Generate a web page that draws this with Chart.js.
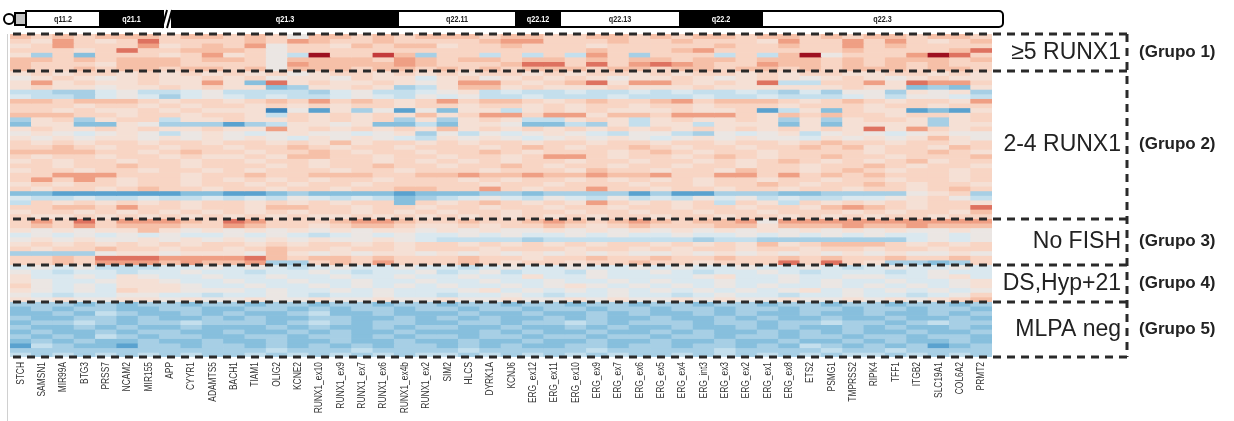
<!DOCTYPE html>
<html lang="es">
<head>
<meta charset="UTF-8">
<title>MLPA cromosoma 21 - heatmap</title>
<script src="https://cdn.jsdelivr.net/npm/chart.js@4"></script>
<style>
  body { margin: 0; background: #fff; }
  #wrap { width: 1234px; height: 421px; }
</style>
</head>
<body>
<div id="wrap"><canvas id="heatmap" width="1234" height="421"></canvas></div>
<script>
// sondas MLPA en el orden del cromosoma 21
const genes = ['STCH', 'SAMSN1', 'MIR99A', 'BTG3', 'PRSS7', 'NCAM2', 'MIR155', 'APP', 'CYYR1', 'ADAMTS5',
  'BACH1', 'TIAM1', 'OLIG2', 'KCNE2', 'RUNX1_ex10', 'RUNX1_ex9', 'RUNX1_ex7', 'RUNX1_ex6', 'RUNX1_ex4b', 'RUNX1_ex2',
  'SIM2', 'HLCS', 'DYRK1A', 'KCNJ6', 'ERG_ex12', 'ERG_ex11', 'ERG_ex10', 'ERG_ex9', 'ERG_ex7', 'ERG_ex6',
  'ERG_ex5', 'ERG_ex4', 'ERG_int3', 'ERG_ex3', 'ERG_ex2', 'ERG_ex1', 'ERG_ex8', 'ETS2', 'PSMG1', 'TMPRSS2',
  'RIPK4', 'TFF1', 'ITGB2', 'SLC19A1', 'COL6A2', 'PRMT2'];

// one string per sample, one letter per probe (ratio level, see levels below)
const group1 = [
  'JIJIJJJIJJ IJIGJJIJIJ JJIJJIIJJI JIJJIJJIJI JJIJJI',
  'IHKIHILIII IJIKJIIJII IIJKKIIIJI IJIIIHKIIK IKIHIJ',
  'HIKIIIKHIJ IKGIIHJIJJ HIIJIIIHII IIIJIIJIIK IJIIII',
  'IIIHILIIJJ JIGIIIIIII IIIIIIIJII IJKIIIIIIJ IIIIJL',
  'HDICIIIHIK HIGENIIMJD IIEIEIEKID IIIEIEJNGI IIKNLI',
  'JJIJIJJJIJ JIGJJJJIKJ IJJIJJIJIJ JIJJIJJJIJ IJJJIJ',
  'JIIIHJJJII IIGKJJJJKJ IIIJLLILIK LKJIIKJJIJ IJIJII',
  'JIIJIJJIJJ IJGJJJIJJI JIJIJJJIJJ IJJIJJIJIJ JJIJJI'
];
const group2 = [
  'HIHIIHIHIH IHIGHIIHIH IHIIHIHIIH IHIIHIHIIH HIIHIH',
  'GHIHGHIHHI HIGHHGIHHF HIGHIHIHGH HIHGHIHGHI HGHIHH',
  'HKHIHHIHHK HCLHIHHIHG HKKIHIJLHK KIHIHLEEII KHLKKI',
  'HIHHGHHIHI HHCDHHIHDE HJJHIHHHIH HHIHHHHHHI HHCDCH',
  'EEDDFGEEFG EEEEDFGEEF GHEFEEFEEF EFEEFEDFDG GDHGHD',
  'FEEDFGFDFG FEFEEFGFEG FGEEFEEEFE EEFEEFEEEF GEGGFE',
  'JJIJJJIHII HIJIKIJIHI KIJJIHIJII JKIJJJIHIJ IHIIHK',
  'IIIHIIHIHI IHIHIHIIHI IHIIHIHIIH IIHIIIHIII HIIHII',
  'IIHIHHIHIH HHAGBHDGBG CHHEHIHIHH HIHHIBEHCI HHBCBH',
  'JJJIIHIIHI IHEIHIHIHJ HIKKIKKHJJ IKKKIHJIJI IHIIHI',
  'DHIDHIIEHH IHHIHIHIDH DHIHEEHIHE HIHHIHDHDH IIHDHI',
  'CHHCCHGDDD BDEHHGHCCE CHHGCCEDHE HHEHHHCHCH HHHDHH',
  'HIHHIHIHHI HHKHIHIHIH JHIHIHIHIH IHIHIHIHIH LHKIHI',
  'GHGFGHGEGH GFGHGGFGHD GEGFGHGFEG GEDGFGHEGH GFGHGG',
  'HGHGHHGHGH GHGFHGHGFE HGHGFGHGHG FGHGHGGFHG HGHJHG',
  'IHIHIIHIIH IIHIHJHIIH IHIIHIIHII HIIHIIHIJI IHIIHI',
  'IIJIHIIHII HIIJIHIIHI IIHIJIHIIJ IHIIHIIJIJ HIIHJI',
  'JJJJIIHIJI IHIIJIHIIH IIJIHIIIHI JIHIIHIIII HIIJIH',
  'IHIIHIIHIH HIHJJIIHII HIIHIKKIHI IHIJIHIIJI IHIIIJ',
  'HIHIIHIIHI IHIIHIIHIH IHIHIIHIIH IIHIHIJIHI HIJHII',
  'IIHIIJIIHI IIHIHIIJII HIIJIHIIHI IHIIHIIHII JIHIIH',
  'HIIHIIHIIH IHIIIHIIHI IIHIIIHJII HIIHJIIHIJ IHIIHI',
  'IIKKKIIIHI IJIIJJJIIJ JKJJKJJKJJ KIIKKIKIJI JIIIHI',
  'IKIKIHIIHI HIHIHIIHII IHIHIIHIHI HIHIIHIIHI IHIIHI',
  'HIHIIHIIHI IHIHIIHIII IIHIIHIIIH IIHIIJIHII JIHIIH',
  'IHIIHIJIIH IIHIIHIIJJ IIKIHIIKII HIIHIIHIIH IIHIJI',
  'CCBBBBBBCC BBCDCCCCBC CCDDCDDDDB DBBDDDCCDD DDGHID',
  'FEEFEEFEEF EFEGFEFECD EFGFEGFEGE FEGFGEFEEF FGHIGE',
  'EIHIHIHIHI IHIHIHIICI HIJIHIHKIH IHIEIHEIHI HIHIIH',
  'IIJJIKIIHI IHJJIIHIIH IIHIIHIIHI IHIIHIIHJK JIHIIL',
  'HIIHIHIHIH IHIHIIHIHI HIIHIIHIIH IIHIIHIIIH IHIIHJ',
  'IHHIHIHIHI HIHIHHIHIH IHIHIHIHII HIIHIIHIHI HIIHII'
];
const group3 = [
  'IKILIKKKJI LKIIIJKKJI IJIIJKJIJK JIJJKGKKKK KKKKKK',
  'IJIKIJJJII KJIIHIJJIH HIHIIJIHIJ IIIJJHJJJK JJKJJJ',
  'HGHGHHJHGH GHGHGHGHHG HGHGGHGHGH GHGHGHGHGH GHGGHG',
  'FGFGFGFGFF GFGFEFGFGF FGFGFFGFGF FGFFGFGFGF GFFGFG',
  'GHGHGGHGHG HGHGHGGHGF EEEEDEEEEE EEDEEDDDDD DDFGFG',
  'HIHIHIHIHI IHIHIIHIHI IHIHIHIHII HIHIHJHIJJ JIHIHI',
  'IHIIJIIHII HIJIIHIIHI IIHIIIHIIH IHIIHIIHII HIIHII',
  'DDDDGHHGHH HGJHGHGHHG HGHGHGHGHG GHGHGHGHGH GHGGHG',
  'IIJILLLKKK KLJIJJIJII IJIIHIIJII JIIJIIJIJI IJIIJI',
  'IIJIKKKJKJ JKDDIJIKII IJIHIIHIIJ IIHIIILILI HDDCDI'
];
const group4 = [
  'FGFGEEEFFG FGFEFGFFGF FEFGFFGFFG FGFFGFFGFE FGFFGF',
  'GFEFFEFFGF FEFFGFEFFG EFGEFFEGFF GFEFFGFEFF FEFGFF',
  'HFFGFHGFFG FFGFFGFFGF FGFFHFFGFF FFGHFFGFFG GFFGHF',
  'HGFFGHHGFF GFFGFFGFFG FFGFFGFFGF GFFGFFGFGF FGFFGH',
  'IGFGFHHHGF FGFFGFGFGF GFFGFGHGFG FGFGFGFFGF GFGFGH',
  'HGFGFIHHGG GFGFFGFGFF FGHFGFGFGF GFGFGFGHFG FGFGFG',
  'GFEFFGGFFE FFGFEFFGFF EFFGFEFFGF FEFGFFEFFG FFEFGI',
  'HGHGGHHGHG GHGGHGGHGG HGGHGGHGHG GHGHGGHGGH GHGHIJ'
];
const group5 = [
  'DDDCDCDDCD DCDDCDDCDD CDDCDDCDDC DDCDDCDDCD DCDDCD',
  'CDCDDCCDDC CDDCDCDDCD DCDDCDDCDD CDDCDDCDDC DDCDDC',
  'CCDCEDCCDC DCCDECCDCC CDCCDCCDCD CCDCDCCDCC DCCDCD',
  'DCCDDCDCCD CDCCDDCCDC DCDCCDCDCC DCCDCDCCDC CDCCDC',
  'CDDEDCDDED DDCDEDCDDC CDDCDDEDCD DDCDDCDDED DCDEDD',
  'DCCDCDCCDC CCDCDCCDCD DCCDCCDCDC CDCCDCDCCD CDCCDC',
  'CDCCDCDDCC DCCDCDCCDC CCDCDCCDCC DCDCCDCDCD CCDCCD',
  'DCDCEDCDDC CDDCDDCDCD DCDDCDDCDD CDDCDDCDDC DDCDDC',
  'CDCDCCDCCD CCDCCDCCDC CDCCDCCDCC DCCDCCDCCD CDCCDC',
  'BEDCCBDDCD DCDCDCDCDD CDCDCCDDCD DCDDCDCEDC DCDBCD',
  'DDDDDDDDDD DDEDDDEDDD DEDDDDDEDD DDDEDDDDED DEDDDD',
  'EDEDEDEDED DEDEDEDEDE EDEDEDEDED DEDEDEDEDE EDEDED'
];

const groupLabels = ['≥5 RUNX1', '2-4 RUNX1', 'No FISH', 'DS,Hyp+21', 'MLPA neg'];
const groupTags = ['(Grupo 1)', '(Grupo 2)', '(Grupo 3)', '(Grupo 4)', '(Grupo 5)'];

// letter -> log2 ratio
const levels = { A: -1.0, B: -0.75, C: -0.55, D: -0.4, E: -0.25, F: -0.1, G: 0,
  H: 0.1, I: 0.2, J: 0.35, K: 0.5, L: 0.7, M: 0.9, N: 1.1 };

const colorStops = [
  [-1.0, [59, 132, 187]], [-0.75, [90, 162, 207]], [-0.55, [135, 191, 221]], [-0.4, [167, 207, 229]],
  [-0.25, [196, 223, 237]], [-0.1, [218, 232, 239]], [0, [235, 230, 227]], [0.1, [245, 224, 213]],
  [0.2, [248, 213, 196]], [0.35, [246, 192, 168]], [0.5, [239, 159, 132]], [0.7, [222, 114, 96]],
  [0.9, [196, 59, 60]], [1.1, [158, 16, 32]]
];

function toColor(v) {
  for (let i = 1; i < colorStops.length; i++) {
    const [v0, c0] = colorStops[i - 1], [v1, c1] = colorStops[i];
    if (v <= v1) {
      const t = Math.max(0, (v - v0) / (v1 - v0));
      const c = c0.map((x, k) => Math.round(x + (c1[k] - x) * t));
      return `rgb(${c[0]},${c[1]},${c[2]})`;
    }
  }
  const c = colorStops[colorStops.length - 1][1];
  return `rgb(${c[0]},${c[1]},${c[2]})`;
}

const decode = s => s.replace(/ /g, '').split('').map(ch => levels[ch]);

const groups = [group1, group2, group3, group4, group5];
const rows = groups.flat().map(decode);
rows.forEach((r, i) => { if (r.length !== genes.length) console.error('row', i, 'has', r.length); });

// cytobands shown over the heatmap
const bands = [
  { name: 'q11.2', x0: 26, x1: 100, dark: false },
  { name: 'q21.1', x0: 100, x1: 163, dark: true },
  { name: 'q21.3', x0: 172, x1: 398, dark: true },
  { name: 'q22.11', x0: 398, x1: 516, dark: false },
  { name: 'q22.12', x0: 516, x1: 560, dark: true },
  { name: 'q22.13', x0: 560, x1: 680, dark: false },
  { name: 'q22.2', x0: 680, x1: 762, dark: true },
  { name: 'q22.3', x0: 762, x1: 1003, dark: false }
];

const datasets = rows.map((vals, r) => ({
  label: 'muestra ' + (r + 1),
  data: vals.map(() => 1),
  backgroundColor: vals.map(toColor),
  borderWidth: 0,
  barPercentage: 1,
  categoryPercentage: 1
}));

const decorations = {
  id: 'decorations',
  afterDraw(chart) {
    const { ctx, chartArea: a, scales: { x, y } } = chart;
    const boxRight = a.right + 135;
    const bounds = [0];
    groups.forEach(g => bounds.push(bounds[bounds.length - 1] + g.length));

    ctx.save();
    // thin frame line at the left
    ctx.strokeStyle = '#d0d0d0';
    ctx.lineWidth = 1;
    ctx.beginPath();
    ctx.moveTo(a.left - 2.5, a.top);
    ctx.lineTo(a.left - 2.5, chart.height);
    ctx.stroke();

    // probe names, narrow and vertical
    ctx.fillStyle = '#333';
    ctx.font = '10.5px "Liberation Sans", Arial, sans-serif';
    ctx.textAlign = 'right';
    ctx.textBaseline = 'middle';
    genes.forEach((g, i) => {
      ctx.save();
      ctx.translate(x.getPixelForValue(i), a.bottom + 5);
      ctx.rotate(-Math.PI / 2);
      ctx.scale(0.8, 1);
      ctx.fillText(g, 0, 0);
      ctx.restore();
    });

    // dashed group boxes
    ctx.strokeStyle = '#2a2a2a';
    ctx.lineWidth = 3;
    ctx.setLineDash([8, 6]);
    bounds.forEach(b => {
      const py = Math.round(y.getPixelForValue(b));
      ctx.beginPath();
      ctx.moveTo(a.left + 3, py);
      ctx.lineTo(boxRight, py);
      ctx.stroke();
    });
    ctx.beginPath();
    ctx.moveTo(boxRight, y.getPixelForValue(0));
    ctx.lineTo(boxRight, y.getPixelForValue(bounds[bounds.length - 1]));
    ctx.stroke();
    ctx.setLineDash([]);

    // group names
    ctx.textBaseline = 'middle';
    groups.forEach((g, i) => {
      const cy = y.getPixelForValue((bounds[i] + bounds[i + 1]) / 2);
      ctx.fillStyle = '#222';
      ctx.font = '23px "Liberation Sans", Arial, sans-serif';
      ctx.textAlign = 'right';
      ctx.fillText(groupLabels[i], boxRight - 6, cy);
      ctx.font = 'bold 17px "Liberation Sans", Arial, sans-serif';
      ctx.textAlign = 'left';
      ctx.fillText(groupTags[i], boxRight + 12, cy);
    });

    // chromosome 21 ideogram
    const top = 11, h = 16;
    ctx.lineWidth = 2;
    ctx.strokeStyle = '#000';
    ctx.fillStyle = '#fff';
    ctx.beginPath();
    ctx.arc(9, top + h / 2, 5, 0, Math.PI * 2);
    ctx.fill();
    ctx.stroke();
    ctx.fillStyle = '#c4c4c4';
    ctx.fillRect(15, top + 2, 11, h - 4);
    ctx.strokeRect(15, top + 2, 11, h - 4);
    bands.forEach((b, i) => {
      ctx.beginPath();
      if (i === bands.length - 1) ctx.roundRect(b.x0, top, b.x1 - b.x0, h, [0, 4, 4, 0]);
      else ctx.rect(b.x0, top, b.x1 - b.x0, h);
      ctx.fillStyle = b.dark ? '#000' : '#fff';
      ctx.fill();
      ctx.stroke();
      ctx.save();
      ctx.translate((b.x0 + b.x1) / 2, top + h / 2 + 0.5);
      ctx.scale(0.8, 1);
      ctx.fillStyle = b.dark ? '#fff' : '#222';
      ctx.font = 'bold 9px "Liberation Sans", Arial, sans-serif';
      ctx.textAlign = 'center';
      ctx.fillText(b.name, 0, 0);
      ctx.restore();
    });
    // break marks between q21.1 and q21.3
    ctx.beginPath();
    ctx.moveTo(162, top + h + 1); ctx.lineTo(167, top - 1);
    ctx.moveTo(167, top + h + 1); ctx.lineTo(172, top - 1);
    ctx.stroke();
    ctx.restore();
  }
};

new Chart(document.getElementById('heatmap'), {
  type: 'bar',
  data: { labels: genes, datasets: datasets },
  options: {
    responsive: false,
    devicePixelRatio: 1,
    animation: false,
    layout: { padding: { left: 10, right: 242, top: 34, bottom: 0 } },
    plugins: { legend: { display: false }, tooltip: { enabled: false } },
    scales: {
      x: {
        stacked: true,
        grid: { display: false },
        border: { display: false },
        ticks: { display: false },
        afterFit: axis => { axis.height = 64; }
      },
      y: {
        stacked: true,
        display: false,
        reverse: true,
        min: 0,
        max: rows.length
      }
    }
  },
  plugins: [decorations]
});
</script>
</body>
</html>
